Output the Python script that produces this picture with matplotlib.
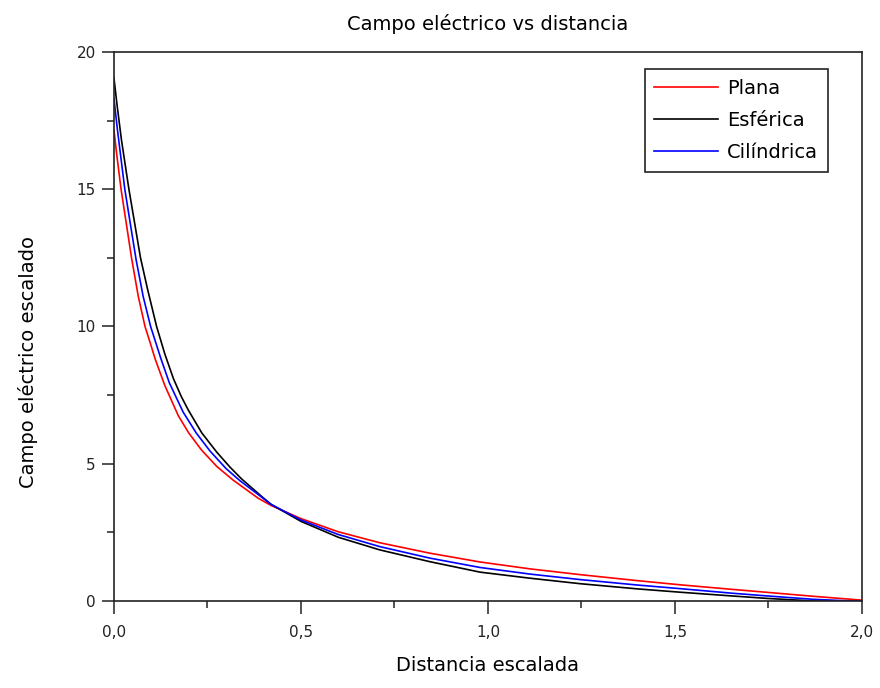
import numpy as np
import matplotlib
matplotlib.use('Agg')
import matplotlib.pyplot as plt
from matplotlib.ticker import MultipleLocator, FuncFormatter

plt.rcParams['font.family'] = 'DejaVu Sans'

# campo escalado frente a distancia escalada para cada geometria
x_plana = [0.0, 0.008, 0.019, 0.047, 0.065, 0.083, 0.097, 0.11, 0.136, 0.172, 0.2,
           0.234, 0.275, 0.319, 0.386, 0.42, 0.5, 0.6, 0.711, 0.845, 0.979, 1.112,
           1.246, 1.40, 1.513, 1.655, 1.75, 1.87, 2.0]
E_plana = [17.15, 16.2, 15.0, 12.5, 11.1, 10.0, 9.4, 8.82, 7.85, 6.75, 6.12,
           5.5, 4.9, 4.4, 3.74, 3.48, 3.0, 2.52, 2.12, 1.74, 1.42, 1.17,
           0.96, 0.74, 0.59, 0.42, 0.31, 0.17, 0.03]

x_esf = [0.0, 0.008, 0.02, 0.040, 0.071, 0.09, 0.114, 0.136, 0.159, 0.18, 0.199,
         0.235, 0.275, 0.31, 0.341, 0.399, 0.42, 0.5, 0.6, 0.711, 0.845, 0.979,
         1.112, 1.246, 1.40, 1.513, 1.655, 1.75, 1.87, 2.0]
E_esf = [19.05, 18.1, 16.8, 15.0, 12.5, 11.35, 10.0, 9.0, 8.1, 7.45, 6.95,
         6.12, 5.42, 4.88, 4.45, 3.76, 3.52, 2.9, 2.32, 1.86, 1.43, 1.05,
         0.83, 0.63, 0.44, 0.32, 0.18, 0.09, 0.0, 0.0]

x_cil = [0.0, 0.009, 0.029, 0.059, 0.078, 0.098, 0.125, 0.148, 0.185, 0.22, 0.257,
         0.3, 0.337, 0.399, 0.42, 0.5, 0.6, 0.711, 0.845, 0.979, 1.112, 1.246,
         1.40, 1.513, 1.655, 1.75, 1.87, 1.97, 2.0]
E_cil = [18.3, 17.2, 15.0, 12.45, 11.1, 10.0, 8.85, 7.95, 6.88, 6.12, 5.46,
         4.82, 4.38, 3.74, 3.52, 2.95, 2.42, 1.98, 1.56, 1.22, 0.98, 0.78,
         0.58, 0.45, 0.28, 0.18, 0.06, 0.0, 0.0]

fig = plt.figure(figsize=(8.8, 6.88), dpi=100)
ax = fig.add_axes([0.1295, 0.1265, 0.8500, 0.7979])

ax.plot(x_plana, E_plana, color='#ff0000', lw=1.2, label='Plana')
ax.plot(x_esf, E_esf, color='#000000', lw=1.2, label='Esférica')
ax.plot(x_cil, E_cil, color='#0000ff', lw=1.2, label='Cilíndrica')

ax.set_xlim(0, 2.0)
ax.set_ylim(0, 20)
ax.xaxis.set_major_locator(MultipleLocator(0.5))
ax.xaxis.set_minor_locator(MultipleLocator(0.25))
ax.yaxis.set_major_locator(MultipleLocator(5))
ax.yaxis.set_minor_locator(MultipleLocator(2.5))
ax.xaxis.set_major_formatter(FuncFormatter(lambda v, p: f'{v:.1f}'.replace('.', ',')))
ax.yaxis.set_major_formatter(FuncFormatter(lambda v, p: f'{v:.0f}'))

ax.tick_params(which='major', direction='out', length=9, width=1.1, labelsize=11,
               colors='#222222')
ax.tick_params(which='minor', direction='out', length=5, width=1.1, colors='#222222')
ax.tick_params(axis='x', which='major', pad=8)
ax.tick_params(axis='y', which='major', pad=4)
for s in ax.spines.values():
    s.set_linewidth(1.2)
    s.set_color('#222222')

ax.set_title('Campo eléctrico vs distancia', fontsize=14, y=1.035, va='center')
ax.set_xlabel('Distancia escalada', fontsize=14, va='center')
ax.xaxis.set_label_coords(0.5, -0.118)
ax.set_ylabel('Campo eléctrico escalado', fontsize=14, va='center')
ax.yaxis.set_label_coords(-0.115, 0.435)

leg = ax.legend(loc='upper right', bbox_to_anchor=(0.9545, 0.969), fontsize=14,
                handlelength=3.3, handletextpad=0.45, labelspacing=0.68,
                borderpad=0.5, borderaxespad=0, fancybox=False, framealpha=1)
leg.get_frame().set_edgecolor('#222222')
leg.get_frame().set_linewidth(1.2)

fig.savefig('out.png', dpi=100)
